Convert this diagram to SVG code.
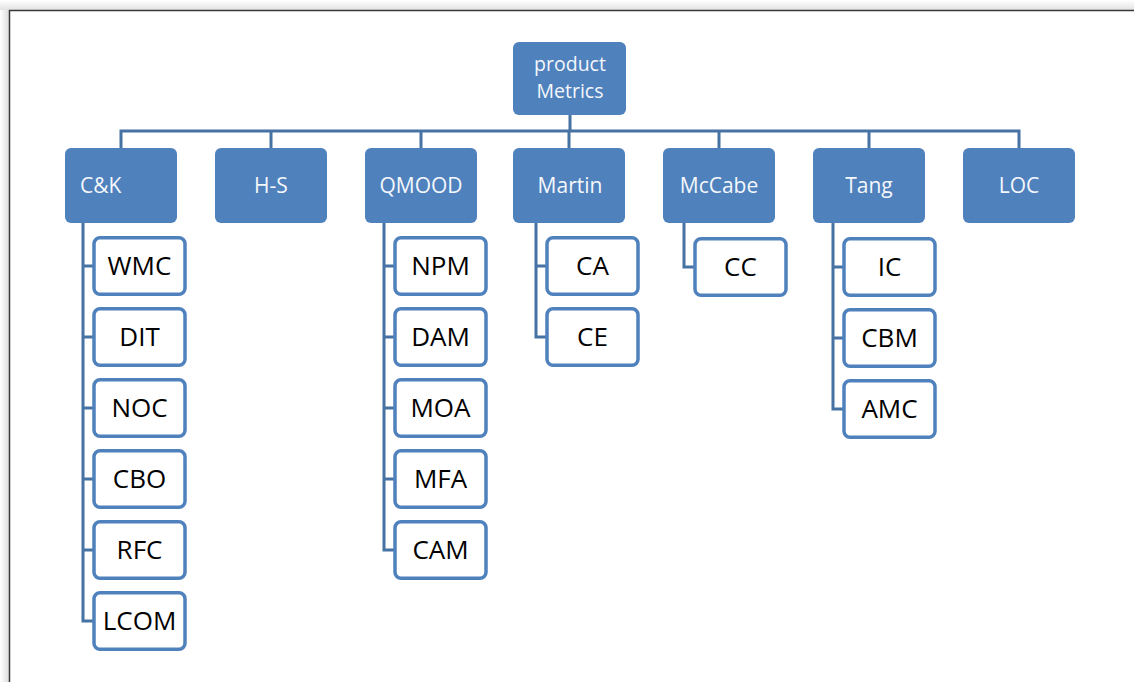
<svg xmlns="http://www.w3.org/2000/svg" width="1134" height="682" viewBox="0 0 1134 682">
<defs>
<linearGradient id="shL" x1="0" x2="1" y1="0" y2="0"><stop offset="0" stop-color="#ffffff"/><stop offset="1" stop-color="#dcdcdc"/></linearGradient>
<linearGradient id="shT" x1="0" x2="0" y1="0" y2="1"><stop offset="0" stop-color="#ffffff"/><stop offset="1" stop-color="#e2e2e2"/></linearGradient>
</defs>
<style>
.top{fill:#4F81BD;}
.tt{font-family:"Open Sans","Liberation Sans",sans-serif;font-size:21px;fill:#F4F7FB;text-anchor:middle;}
.rt{font-family:"Open Sans","Liberation Sans",sans-serif;font-size:19.5px;fill:#F4F7FB;text-anchor:middle;}
.ch{fill:#ffffff;stroke:#4F81BD;stroke-width:3.5;}
.ct{font-family:"Open Sans","Liberation Sans",sans-serif;font-size:26px;fill:#000000;text-anchor:middle;}
.cn{fill:none;stroke:#4672A4;stroke-width:3;}
</style>
<rect x="0" y="0" width="1134" height="682" fill="#ffffff"/>
<rect x="0" y="0" width="9" height="682" fill="url(#shL)"/>
<rect x="0" y="0" width="1134" height="10" fill="url(#shT)"/>
<path d="M9.5,682 V10.5 H1134" fill="none" stroke="#3a3a3a" stroke-width="1.5"/>
<g id="connectors">
<path class="cn" d="M570,115 V131 M121,148 V131 H1019 V148 M271,131 V148 M421,131 V148 M569,131 V148 M719,131 V148 M869,131 V148"/>
<path class="cn" d="M83,222 V621 H94 M83,266 H94 M83,337 H94 M83,408 H94 M83,479 H94 M83,550 H94"/>
<path class="cn" d="M384,222 V550 H395 M384,266 H395 M384,337 H395 M384,408 H395 M384,479 H395"/>
<path class="cn" d="M536,222 V337 H547 M536,266 H547"/>
<path class="cn" d="M684,222 V267 H695"/>
<path class="cn" d="M833,222 V409 H844 M833,267 H844 M833,338 H844"/>
</g>
<g id="root"><rect class="top" x="513" y="42" width="113" height="73" rx="6"/><text class="rt" x="570" y="71">product</text><text class="rt" x="570" y="97.5">Metrics</text></g>
<g id="ck"><rect class="top" x="65" y="148" width="112" height="75" rx="6"/><text class="tt" x="80" y="193" style="text-anchor:start">C&amp;K</text></g>
<g id="hs"><rect class="top" x="215" y="148" width="112" height="75" rx="6"/><text class="tt" x="271" y="193">H-S</text></g>
<g id="qmood"><rect class="top" x="365" y="148" width="112" height="75" rx="6"/><text class="tt" x="421" y="193">QMOOD</text></g>
<g id="martin"><rect class="top" x="513" y="148" width="112" height="75" rx="6"/><text class="tt" x="570" y="193">Martin</text></g>
<g id="mccabe"><rect class="top" x="663" y="148" width="112" height="75" rx="6"/><text class="tt" x="719" y="193">McCabe</text></g>
<g id="tang"><rect class="top" x="813" y="148" width="112" height="75" rx="6"/><text class="tt" x="869" y="193">Tang</text></g>
<g id="loc"><rect class="top" x="963" y="148" width="112" height="75" rx="6"/><text class="tt" x="1019" y="193">LOC</text></g>
<g id="wmc"><rect class="ch" x="94" y="237.75" width="91" height="56.5" rx="6"/><text class="ct" x="139.5" y="275">WMC</text></g>
<g id="dit"><rect class="ch" x="94" y="308.75" width="91" height="56.5" rx="6"/><text class="ct" x="139.5" y="346">DIT</text></g>
<g id="noc"><rect class="ch" x="94" y="379.75" width="91" height="56.5" rx="6"/><text class="ct" x="139.5" y="417">NOC</text></g>
<g id="cbo"><rect class="ch" x="94" y="450.75" width="91" height="56.5" rx="6"/><text class="ct" x="139.5" y="488">CBO</text></g>
<g id="rfc"><rect class="ch" x="94" y="521.75" width="91" height="56.5" rx="6"/><text class="ct" x="139.5" y="559">RFC</text></g>
<g id="lcom"><rect class="ch" x="94" y="592.75" width="91" height="56.5" rx="6"/><text class="ct" x="139.5" y="630">LCOM</text></g>
<g id="npm"><rect class="ch" x="395" y="237.75" width="91" height="56.5" rx="6"/><text class="ct" x="440.5" y="275">NPM</text></g>
<g id="dam"><rect class="ch" x="395" y="308.75" width="91" height="56.5" rx="6"/><text class="ct" x="440.5" y="346">DAM</text></g>
<g id="moa"><rect class="ch" x="395" y="379.75" width="91" height="56.5" rx="6"/><text class="ct" x="440.5" y="417">MOA</text></g>
<g id="mfa"><rect class="ch" x="395" y="450.75" width="91" height="56.5" rx="6"/><text class="ct" x="440.5" y="488">MFA</text></g>
<g id="cam"><rect class="ch" x="395" y="521.75" width="91" height="56.5" rx="6"/><text class="ct" x="440.5" y="559">CAM</text></g>
<g id="ca"><rect class="ch" x="547" y="237.75" width="91" height="56.5" rx="6"/><text class="ct" x="592.5" y="275">CA</text></g>
<g id="ce"><rect class="ch" x="547" y="308.75" width="91" height="56.5" rx="6"/><text class="ct" x="592.5" y="346">CE</text></g>
<g id="cc"><rect class="ch" x="695" y="238.75" width="91" height="56.5" rx="6"/><text class="ct" x="740.5" y="276">CC</text></g>
<g id="ic"><rect class="ch" x="844" y="238.75" width="91" height="56.5" rx="6"/><text class="ct" x="889.5" y="276">IC</text></g>
<g id="cbm"><rect class="ch" x="844" y="309.75" width="91" height="56.5" rx="6"/><text class="ct" x="889.5" y="347">CBM</text></g>
<g id="amc"><rect class="ch" x="844" y="380.75" width="91" height="56.5" rx="6"/><text class="ct" x="889.5" y="418">AMC</text></g>
</svg>
